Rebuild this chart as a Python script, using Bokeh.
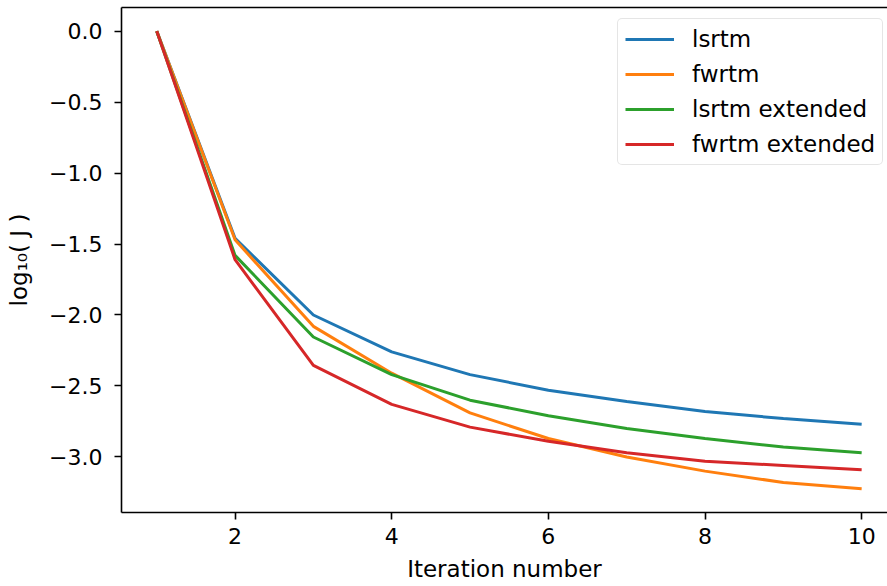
from bokeh.plotting import figure
from bokeh.models import Range1d, FixedTicker, LinearAxis, Legend, LegendItem
from bokeh.embed import file_html
from bokeh.resources import INLINE

# Objective value (log10) per iteration for each migration variant
iterations = [1, 2, 3, 4, 5, 6, 7, 8, 9, 10]
lsrtm = [0.0, -1.46, -2.00, -2.26, -2.42, -2.53, -2.61, -2.68, -2.73, -2.77]
fwrtm = [0.0, -1.47, -2.08, -2.41, -2.69, -2.87, -3.00, -3.10, -3.18, -3.225]
lsrtm_extended = [0.0, -1.58, -2.155, -2.42, -2.60, -2.71, -2.80, -2.87, -2.93, -2.97]
fwrtm_extended = [0.0, -1.61, -2.355, -2.63, -2.79, -2.89, -2.97, -3.03, -3.06, -3.09]

series_names = ["lsrtm", "fwrtm", "lsrtm extended", "fwrtm extended"]
series_values = [lsrtm, fwrtm, lsrtm_extended, fwrtm_extended]
series_colors = ["#1f77b4", "#ff7f0e", "#2ca02c", "#d62728"]

x_ticks = [2, 4, 6, 8, 10]
y_ticks = [0.0, -0.5, -1.0, -1.5, -2.0, -2.5, -3.0]
y_tick_labels = ["0.0", "\u22120.5", "\u22121.0", "\u22121.5", "\u22122.0", "\u22122.5", "\u22123.0"]

FONT = "DejaVu Sans"
TICK_SIZE = "22px"
LABEL_SIZE = "23px"

p = figure(width=887, height=586, output_backend="svg", toolbar_location=None,
           x_range=Range1d(0.55, 10.33), y_range=Range1d(-3.3915, 0.1665),
           min_border_left=121, min_border_right=0, min_border_top=7,
           min_border_bottom=74, background_fill_color="white",
           border_fill_color="white", outline_line_color=None)
p.grid.visible = False

renderers = []
for name, vals, col in zip(series_names, series_values, series_colors):
    r = p.line(iterations, vals, line_color=col, line_width=3)
    renderers.append((name, r))

# bottom / left axes
for ax in (p.xaxis[0], p.yaxis[0]):
    ax.axis_line_width = 1.6
    ax.axis_line_color = "black"
    ax.major_tick_line_width = 1.6
    ax.major_tick_out = 7
    ax.major_tick_in = 0
    ax.minor_tick_line_color = None
    ax.major_label_text_font = FONT
    ax.major_label_text_font_size = TICK_SIZE
    ax.major_label_text_color = "black"
    ax.axis_label_text_font = FONT
    ax.axis_label_text_font_size = LABEL_SIZE
    ax.axis_label_text_font_style = "normal"
    ax.axis_label_text_color = "black"

p.xaxis[0].ticker = FixedTicker(ticks=x_ticks)
p.xaxis[0].major_label_standoff = 8
p.xaxis[0].axis_label = "Iteration number"
p.xaxis[0].axis_label_standoff = 9

p.yaxis[0].ticker = FixedTicker(ticks=y_ticks)
p.yaxis[0].major_label_overrides = {t: s for t, s in zip(y_ticks, y_tick_labels)}
p.yaxis[0].major_label_standoff = 12
p.yaxis[0].axis_label = "log\u2081\u2080( J )"
p.yaxis[0].axis_label_standoff = 14

# top spine
top = LinearAxis(ticker=FixedTicker(ticks=[]), axis_line_width=1.6,
                 axis_line_color="black", major_tick_line_color=None,
                 minor_tick_line_color=None, major_label_text_font_size="0px")
p.add_layout(top, "above")

legend = Legend(items=[LegendItem(label=n, renderers=[r]) for n, r in renderers],
                location=(496, 347), orientation="vertical",
                label_text_font=FONT, label_text_font_size=LABEL_SIZE,
                label_text_color="black",
                glyph_width=49, glyph_height=20, label_height=20,
                label_standoff=18, spacing=9, padding=7, margin=0,
                border_line_color="#cccccc", border_line_width=1.2,
                border_radius=5, background_fill_color="white",
                background_fill_alpha=0.8)
p.add_layout(legend)

open("out.html", "w").write(file_html(p, INLINE))
